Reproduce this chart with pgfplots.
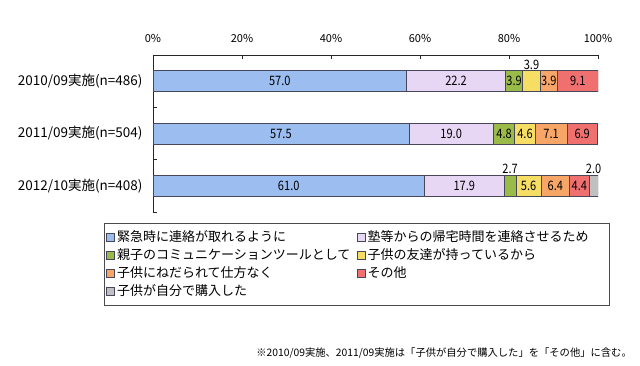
\documentclass[border=0pt]{standalone}
\usepackage{fontspec}
\setmainfont{Noto Sans CJK JP}
\newfontfamily\narrowfont[FakeStretch=0.85]{Noto Sans CJK JP}
\usepackage{pgfplots}
\pgfplotsset{compat=1.18}
\definecolor{cBlue}{RGB}{155,189,240}
\definecolor{cLav}{RGB}{232,214,245}
\definecolor{cGreen}{RGB}{155,187,72}
\definecolor{cYellow}{RGB}{246,221,100}
\definecolor{cOrange}{RGB}{248,166,104}
\definecolor{cRed}{RGB}{240,112,112}
\definecolor{cGray}{RGB}{192,192,192}
\definecolor{cEdge}{RGB}{70,72,90}
\begin{document}
\begin{tikzpicture}
\path[use as bounding box] (0,0) rectangle (640pt,365pt);
\begin{axis}[
  at={(153pt,153pt)}, anchor=south west, scale only axis,
  width=445pt, height=157pt,
  xbar stacked, bar width=21pt,
  xmin=0, xmax=100, ymin=-0.5, ymax=2.5,
  axis x line*=top, axis y line*=left,
  axis line style={draw=black!85, line width=0.8pt},
  xtick={0,20,40,60,80,100},
  xticklabels={0\%,20\%,40\%,60\%,80\%,100\%},
  tick align=inside, major tick length=4pt,
  x tick style={draw=black!85, line width=0.6pt},
  xticklabel style={font=\fontsize{11}{13}\selectfont, yshift=9pt},
  ytick={0,1,2},
  yticklabels={2012/10実施(n=408),2011/09実施(n=504),2010/09実施(n=486)},
  y tick style={draw=none},
  minor ytick={-0.5,0.5,1.5},
  minor y tick style={draw=black!85, line width=0.6pt},
  minor tick length=4pt,
  yticklabel style={font=\fontsize{13.5}{15}\selectfont, xshift=-7pt},
  /pgf/number format/assume math mode=true,
  every axis plot/.append style={draw=cEdge, line width=0.6pt},
  legend columns=2,
  legend cell align=left,
  legend style={at={(-0.1101,-0.0701)}, anchor=north west,
    draw=black!70, line width=0.9pt,
    font=\fontsize{13}{15}\selectfont,
    inner xsep=2pt, inner ysep=5.5pt,
    nodes={text width=238pt, text height=11pt, text depth=3pt, inner ysep=1.7pt, inner xsep=2pt},
    /tikz/every even column/.append style={column sep=0pt},
    row sep=0.5pt},
  legend image code/.code={\draw[#1, draw=cEdge, line width=0.6pt] (0pt,-4pt) rectangle (8pt,4pt);},
]
\addplot[fill=cBlue] coordinates {(61.0,0) (57.5,1) (57.0,2)};
\addplot[fill=cLav] coordinates {(17.9,0) (19.0,1) (22.2,2)};
\addplot[fill=cGreen] coordinates {(2.7,0) (4.8,1) (3.9,2)};
\addplot[fill=cYellow] coordinates {(5.6,0) (4.6,1) (3.9,2)};
\addplot[fill=cOrange] coordinates {(6.4,0) (7.1,1) (3.9,2)};
\addplot[fill=cRed] coordinates {(4.4,0) (6.9,1) (9.1,2)};
\addplot[fill=cGray] coordinates {(2.0,0)};
\legend{緊急時に連絡が取れるように,塾等からの帰宅時間を連絡させるため,親子のコミュニケーションツールとして,子供の友達が持っているから,子供にねだられて仕方なく,その他,子供が自分で購入した}
\end{axis}
\begin{axis}[
  at={(153pt,153pt)}, anchor=south west, scale only axis,
  width=445pt, height=157pt,
  xmin=0, xmax=100, ymin=-0.5, ymax=2.5,
  hide axis, clip=false,
  nodes near coords={\narrowfont\fontsize{13}{15}\selectfont\pgfplotspointmeta},
  point meta=explicit symbolic,
  nodes near coords style={text=black, inner sep=1pt},
]
\addplot[draw=none, nodes near coords style={anchor=center}] coordinates {
  (28.5,2) [57.0] (68.1,2) [22.2] (81.15,2) [3.9] (88.95,2) [3.9] (95.45,2) [9.1]
  (28.75,1) [57.5] (67.0,1) [19.0] (78.9,1) [4.8] (83.6,1) [4.6] (89.45,1) [7.1] (96.45,1) [6.9]
  (30.5,0) [61.0] (69.95,0) [17.9] (84.4,0) [5.6] (90.4,0) [6.4] (95.8,0) [4.4]
};
\addplot[draw=none, nodes near coords style={anchor=south}] coordinates {
  (85.05,2.2) [3.9] (80.25,0.2) [2.7] (99.0,0.2) [2.0]
};
\end{axis}
\node[anchor=base east, font=\fontsize{10.3}{12}\selectfont, inner sep=0pt] at (632pt,9pt) {※2010/09実施、2011/09実施は「子供が自分で購入した」を「その他」に含む。};
\end{tikzpicture}
\end{document}
